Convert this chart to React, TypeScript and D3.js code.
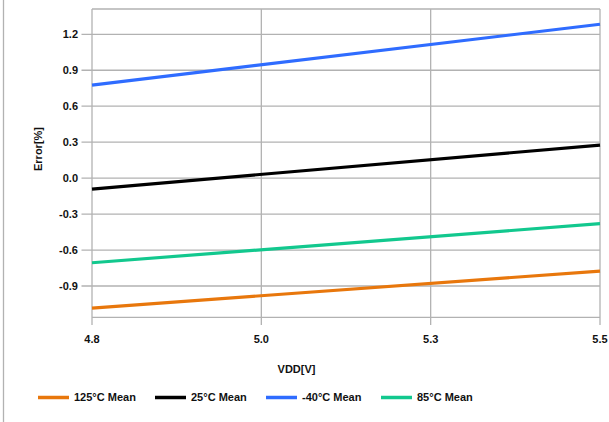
import React from "react";
import * as d3 from "d3";

const VDD: number[] = [4.8, 5.5];
const SERIES_NAMES: string[] = ["125°C Mean", "25°C Mean", "-40°C Mean", "85°C Mean"];
const S125: number[] = [-1.084, -0.775];
const S25: number[] = [-0.091, 0.276];
const SM40: number[] = [0.776, 1.284];
const S85: number[] = [-0.706, -0.38];
const SERIES_COLORS: string[] = ["#E8770C", "#000000", "#2F6CFF", "#12C88E"];
const X_TICKS: number[] = [4.8, 4.8 + 0.7 / 3, 4.8 + 1.4 / 3, 5.5];
const Y_TICKS: number[] = [1.2, 0.9, 0.6, 0.3, 0.0, -0.3, -0.6, -0.9];

const W = 609;
const H = 422;
const L = 92, R = 600, T = 9, B = 317.3;

export default function App() {
  const x = d3.scaleLinear().domain([4.8, 5.5]).range([L, R]);
  const y = d3.scaleLinear().domain([-1.161, 1.411]).range([B, T]);
  const all = [S125, S25, SM40, S85];
  const line = d3
    .line<number>()
    .x((_, i) => x(VDD[i]))
    .y((d) => y(d));
  const grid = "#B2B2B2";
  const font = "'Liberation Sans', Arial, sans-serif";
  const legendX = [38, 155, 266, 381];
  const legendY = 397.5;
  return (
    <svg
      width={W}
      height={H}
      style={{ position: "absolute", left: 0, top: 0, background: "#fff" }}
      fontFamily={font}
    >
      <line x1={3.5} x2={3.5} y1={0} y2={H} stroke={grid} strokeWidth={1.3} />
      {Y_TICKS.map((t) => (
        <g key={"y" + t}>
          <line x1={81.5} x2={R} y1={y(t)} y2={y(t)} stroke={grid} strokeWidth={1.3} />
          <text x={78} y={y(t)} dy="0.35em" textAnchor="end" fontSize={11} fontWeight="bold" fill="#111">
            {t.toFixed(1)}
          </text>
        </g>
      ))}
      <line x1={L} x2={R} y1={T} y2={T} stroke={grid} strokeWidth={1.3} />
      <line x1={L} x2={R} y1={B} y2={B} stroke={grid} strokeWidth={1.3} />
      {X_TICKS.map((t, i) => (
        <g key={"x" + i}>
          <line x1={x(t)} x2={x(t)} y1={T} y2={325} stroke={grid} strokeWidth={1.3} />
          <text x={x(t)} y={339.5} dy="0.35em" textAnchor="middle" fontSize={11} fontWeight="bold" fill="#111">
            {t.toFixed(1)}
          </text>
        </g>
      ))}
      {all.map((s, i) => (
        <path key={"s" + i} d={line(s) || ""} fill="none" stroke={SERIES_COLORS[i]} strokeWidth={3.2} />
      ))}
      <text x={296.5} y={369.5} dy="0.35em" textAnchor="middle" fontSize={11} fontWeight="bold" fill="#111">
        VDD[V]
      </text>
      <text
        transform={`translate(38.5,149) rotate(-90)`}
        dy="0.35em"
        textAnchor="middle"
        fontSize={11}
        fontWeight="bold"
        fill="#111"
      >
        Error[%]
      </text>
      {SERIES_NAMES.map((n, i) => (
        <g key={"l" + i}>
          <line x1={legendX[i]} x2={legendX[i] + 31} y1={legendY} y2={legendY} stroke={SERIES_COLORS[i]} strokeWidth={3.5} />
          <text x={legendX[i] + 36} y={legendY} dy="0.35em" fontSize={11} fontWeight="bold" fill="#111">
            {n}
          </text>
        </g>
      ))}
    </svg>
  );
}
